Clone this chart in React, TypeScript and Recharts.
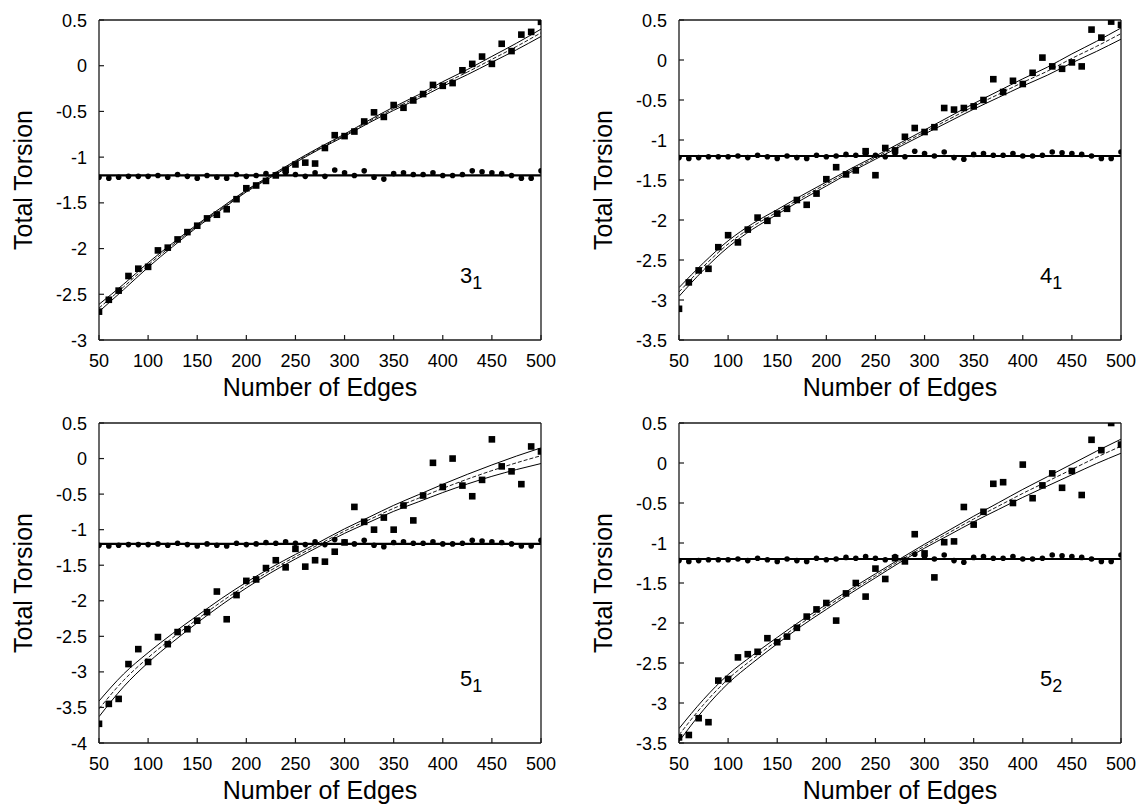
import React from 'react';
import { ComposedChart, Scatter, Line, XAxis, YAxis, ReferenceLine } from 'recharts';

const FONT = '"Liberation Sans", Arial, Helvetica, sans-serif';

// Number of edges sampled (x positions of markers)
const edges = [50, 60, 70, 80, 90, 100, 110, 120, 130, 140, 150, 160, 170, 180, 190, 200, 210, 220, 230, 240, 250, 260, 270, 280, 290, 300, 310, 320, 330, 340, 350, 360, 370, 380, 390, 400, 410, 420, 430, 440, 450, 460, 470, 480, 490, 500];
// x positions at which fitted curves were read
const fitX = [50, 75, 100, 125, 150, 175, 200, 225, 250, 275, 300, 325, 350, 375, 400, 425, 450, 475, 500];
const xTicks = [50, 100, 150, 200, 250, 300, 350, 400, 450, 500];
const yTicks3 = [0.5, 0, -0.5, -1, -1.5, -2, -2.5, -3];
const yTicks35 = [0.5, 0, -0.5, -1, -1.5, -2, -2.5, -3, -3.5];
const yTicks4 = [0.5, 0, -0.5, -1, -1.5, -2, -2.5, -3, -3.5, -4];
const referenceLevel = -1.2;

// circle markers (nearly constant series)
const circleValues = [-1.22, -1.23, -1.22, -1.21, -1.21, -1.21, -1.2, -1.22, -1.19, -1.21, -1.23, -1.2, -1.22, -1.23, -1.19, -1.21, -1.2, -1.18, -1.19, -1.17, -1.19, -1.21, -1.17, -1.21, -1.14, -1.17, -1.2, -1.15, -1.22, -1.24, -1.18, -1.17, -1.19, -1.19, -1.17, -1.2, -1.2, -1.19, -1.15, -1.16, -1.17, -1.18, -1.2, -1.23, -1.23, -1.15];

// square markers, knot 3_1
const squares31 = [-2.69, -2.56, -2.46, -2.3, -2.22, -2.2, -2.02, -1.99, -1.9, -1.82, -1.75, -1.67, -1.63, -1.57, -1.46, -1.34, -1.31, -1.26, -1.2, -1.14, -1.08, -1.06, -1.07, -0.9, -0.76, -0.77, -0.72, -0.61, -0.51, -0.56, -0.43, -0.46, -0.38, -0.31, -0.21, -0.22, -0.19, -0.05, 0.02, 0.1, 0.02, 0.24, 0.16, 0.34, 0.37, 0.48];
const fit31 = [-2.65, -2.42, -2.18, -1.96, -1.75, -1.56, -1.37, -1.21, -1.05, -0.9, -0.76, -0.61, -0.47, -0.34, -0.2, -0.07, 0.07, 0.21, 0.36];
const upper31 = [-2.61, -2.39, -2.155, -1.94, -1.735, -1.548, -1.36, -1.2, -1.04, -0.89, -0.748, -0.596, -0.452, -0.319, -0.175, -0.042, 0.102, 0.246, 0.4];
const lower31 = [-2.69, -2.45, -2.205, -1.98, -1.765, -1.572, -1.38, -1.22, -1.06, -0.91, -0.772, -0.624, -0.488, -0.361, -0.225, -0.098, 0.038, 0.174, 0.32];

// knot 4_1
const squares41 = [-3.11, -2.78, -2.63, -2.61, -2.34, -2.19, -2.28, -2.12, -1.97, -2.01, -1.92, -1.86, -1.75, -1.81, -1.67, -1.49, -1.34, -1.43, -1.38, -1.14, -1.44, -1.1, -1.13, -0.96, -0.85, -0.9, -0.84, -0.6, -0.62, -0.6, -0.58, -0.5, -0.24, -0.4, -0.26, -0.3, -0.16, 0.03, -0.08, -0.11, -0.03, -0.08, 0.38, 0.28, 0.48, 0.44];
const fit41 = [-2.9, -2.58, -2.3, -2.08, -1.9, -1.72, -1.55, -1.38, -1.22, -1.06, -0.9, -0.74, -0.58, -0.43, -0.28, -0.14, 0.02, 0.17, 0.33];
const upper41 = [-2.845, -2.535, -2.26, -2.045, -1.87, -1.693, -1.525, -1.358, -1.2, -1.038, -0.875, -0.71, -0.545, -0.39, -0.235, -0.09, 0.076, 0.233, 0.4];
const lower41 = [-2.955, -2.625, -2.34, -2.115, -1.93, -1.747, -1.575, -1.402, -1.24, -1.082, -0.925, -0.77, -0.615, -0.47, -0.325, -0.19, -0.036, 0.107, 0.26];

// knot 5_1
const squares51 = [-3.73, -3.45, -3.38, -2.89, -2.68, -2.86, -2.51, -2.61, -2.44, -2.4, -2.28, -2.16, -1.87, -2.26, -1.92, -1.72, -1.7, -1.54, -1.43, -1.53, -1.27, -1.52, -1.43, -1.45, -1.31, -1.18, -0.68, -0.89, -1.0, -0.83, -1.0, -0.66, -0.87, -0.52, -0.06, -0.4, 0.0, -0.38, -0.53, -0.3, 0.27, -0.11, -0.18, -0.36, 0.17, 0.1];
const fit51 = [-3.52, -3.12, -2.8, -2.52, -2.26, -2.01, -1.78, -1.57, -1.38, -1.2, -1.02, -0.86, -0.7, -0.56, -0.42, -0.29, -0.17, -0.06, 0.04];
const upper51 = [-3.41, -3.03, -2.73, -2.46, -2.21, -1.965, -1.74, -1.535, -1.348, -1.17, -0.988, -0.824, -0.658, -0.51, -0.362, -0.222, -0.09, 0.035, 0.15];
const lower51 = [-3.63, -3.21, -2.87, -2.58, -2.31, -2.055, -1.82, -1.605, -1.412, -1.23, -1.052, -0.896, -0.742, -0.61, -0.478, -0.358, -0.25, -0.155, -0.07];

// knot 5_2
const squares52 = [-3.43, -3.4, -3.19, -3.24, -2.72, -2.7, -2.43, -2.39, -2.36, -2.19, -2.24, -2.17, -2.06, -1.92, -1.83, -1.75, -1.97, -1.63, -1.5, -1.67, -1.32, -1.45, -1.19, -1.23, -0.89, -1.13, -1.43, -0.99, -0.98, -0.55, -0.77, -0.61, -0.26, -0.24, -0.5, -0.02, -0.44, -0.28, -0.13, -0.31, -0.1, -0.4, 0.29, 0.16, 0.5, 0.23];
const fit52 = [-3.4, -3.02, -2.7, -2.45, -2.22, -2.0, -1.8, -1.6, -1.41, -1.22, -1.04, -0.87, -0.7, -0.54, -0.38, -0.23, -0.08, 0.07, 0.21];
const upper52 = [-3.32, -2.955, -2.645, -2.403, -2.18, -1.965, -1.77, -1.573, -1.385, -1.198, -1.015, -0.84, -0.665, -0.498, -0.33, -0.172, -0.013, 0.147, 0.298];
const lower52 = [-3.48, -3.085, -2.755, -2.497, -2.26, -2.035, -1.83, -1.627, -1.435, -1.242, -1.065, -0.9, -0.735, -0.582, -0.43, -0.288, -0.147, -0.007, 0.122];

const toPts = (xs: number[], ys: number[]) => xs.map((x, i) => ({ x, y: ys[i] }));

const SquareShape = (p: any) => (
  <rect x={p.cx - 3.3} y={p.cy - 3.3} width={6.6} height={6.6} fill="#000" />
);
const CircleShape = (p: any) => <circle cx={p.cx} cy={p.cy} r={2.8} fill="#000" />;

const YTitle = (props: any) => {
  const vb = props.viewBox || { x: 0, y: 0, width: 0, height: 0 };
  const cx = vb.x + 23;
  const cy = vb.y + vb.height / 2;
  return (
    <text x={cx} y={cy} transform={`rotate(-90 ${cx} ${cy})`} textAnchor="middle" dominantBaseline="central" fontSize={25} fontFamily={FONT} fill="#000">
      Total Torsion
    </text>
  );
};

const XTitle = (props: any) => {
  const vb = props.viewBox || { x: 0, y: 0, width: 0, height: 0 };
  return (
    <text x={vb.x + vb.width / 2} y={vb.y + 56} textAnchor="middle" fontSize={25} fontFamily={FONT} fill="#000">
      Number of Edges
    </text>
  );
};

const XTick = (p: any) => (
  <text x={p.x} y={p.y} dy={13} textAnchor="middle" fontSize={18} fontFamily={FONT} fill="#000">
    {p.payload.value}
  </text>
);
const YTick = (p: any) => (
  <text x={p.x} y={p.y} dy={6.5} textAnchor="end" fontSize={18} fontFamily={FONT} fill="#000">
    {p.payload.value}
  </text>
);

const AXIS = '#1a1a1a';

type PanelProps = {
  left: number;
  top: number;
  squares: number[];
  fit: number[];
  upper: number[];
  lower: number[];
  yMin: number;
  yTicks: number[];
};

function Panel({ left, top, squares, fit, upper, lower, yMin, yTicks }: PanelProps) {
  return (
    <div style={{ position: 'absolute', left, top, width: 561, height: 403 }}>
      <ComposedChart width={561} height={403} margin={{ top: 19, right: 19, bottom: 0, left: 0 }}>
        <XAxis dataKey="x" type="number" domain={[50, 500]} ticks={xTicks} allowDataOverflow height={63}
          tickSize={-5} tickMargin={19} tick={<XTick />} axisLine={{ stroke: AXIS, strokeWidth: 1.3 }}
          tickLine={{ stroke: AXIS, strokeWidth: 1.2 }} label={<XTitle />} />
        <XAxis xAxisId="top" orientation="top" dataKey="x" type="number" domain={[50, 500]} ticks={xTicks} allowDataOverflow height={1}
          tickSize={-5} tick={false} axisLine={{ stroke: AXIS, strokeWidth: 1.3 }} tickLine={{ stroke: AXIS, strokeWidth: 1.2 }} />
        <YAxis dataKey="y" type="number" domain={[yMin, 0.5]} ticks={yTicks} allowDataOverflow width={99}
          tickSize={-5} tickMargin={17} tick={<YTick />} axisLine={{ stroke: AXIS, strokeWidth: 1.3 }}
          tickLine={{ stroke: AXIS, strokeWidth: 1.2 }} label={<YTitle />} />
        <YAxis yAxisId="right" orientation="right" dataKey="y" type="number" domain={[yMin, 0.5]} ticks={yTicks} allowDataOverflow width={1}
          tickSize={-5} tick={false} axisLine={{ stroke: AXIS, strokeWidth: 1.3 }} tickLine={{ stroke: AXIS, strokeWidth: 1.2 }} />
        <ReferenceLine y={referenceLevel} stroke="#000" strokeWidth={2.2} />
        <Line data={toPts(fitX, upper)} dataKey="y" type="monotone" stroke="#000" strokeWidth={1} dot={false} isAnimationActive={false} />
        <Line data={toPts(fitX, lower)} dataKey="y" type="monotone" stroke="#000" strokeWidth={1} dot={false} isAnimationActive={false} />
        <Line data={toPts(fitX, fit)} dataKey="y" type="monotone" stroke="#000" strokeWidth={0.9} strokeDasharray="4 2" dot={false} isAnimationActive={false} />
        <Scatter data={toPts(edges, squares)} dataKey="y" shape={SquareShape} isAnimationActive={false} />
        <Scatter data={toPts(edges, circleValues)} dataKey="y" shape={CircleShape} isAnimationActive={false} />
      </ComposedChart>
    </div>
  );
}

const knotLabels = [
  { n: '3', s: '1', x: 460, y: 283 },
  { n: '4', s: '1', x: 1040, y: 283 },
  { n: '5', s: '1', x: 460, y: 686 },
  { n: '5', s: '2', x: 1040, y: 686 },
];

export default function App() {
  return (
    <div style={{ position: 'absolute', left: 0, top: 0, width: 1141, height: 804, overflow: 'hidden', background: '#fff' }}>
      <Panel left={0} top={0} squares={squares31} fit={fit31} upper={upper31} lower={lower31} yMin={-3} yTicks={yTicks3} />
      <Panel left={580} top={0} squares={squares41} fit={fit41} upper={upper41} lower={lower41} yMin={-3.5} yTicks={yTicks35} />
      <Panel left={0} top={403} squares={squares51} fit={fit51} upper={upper51} lower={lower51} yMin={-4} yTicks={yTicks4} />
      <Panel left={580} top={403} squares={squares52} fit={fit52} upper={upper52} lower={lower52} yMin={-3.5} yTicks={yTicks35} />
      <svg width={1141} height={804} style={{ position: 'absolute', left: 0, top: 0, pointerEvents: 'none' }}>
        {knotLabels.map((k, i) => (
          <text key={i} x={k.x} y={k.y} fontSize={22} fontFamily={FONT} fill="#000">
            {k.n}
            <tspan fontSize={18} dy={6}>{k.s}</tspan>
          </text>
        ))}
      </svg>
    </div>
  );
}
